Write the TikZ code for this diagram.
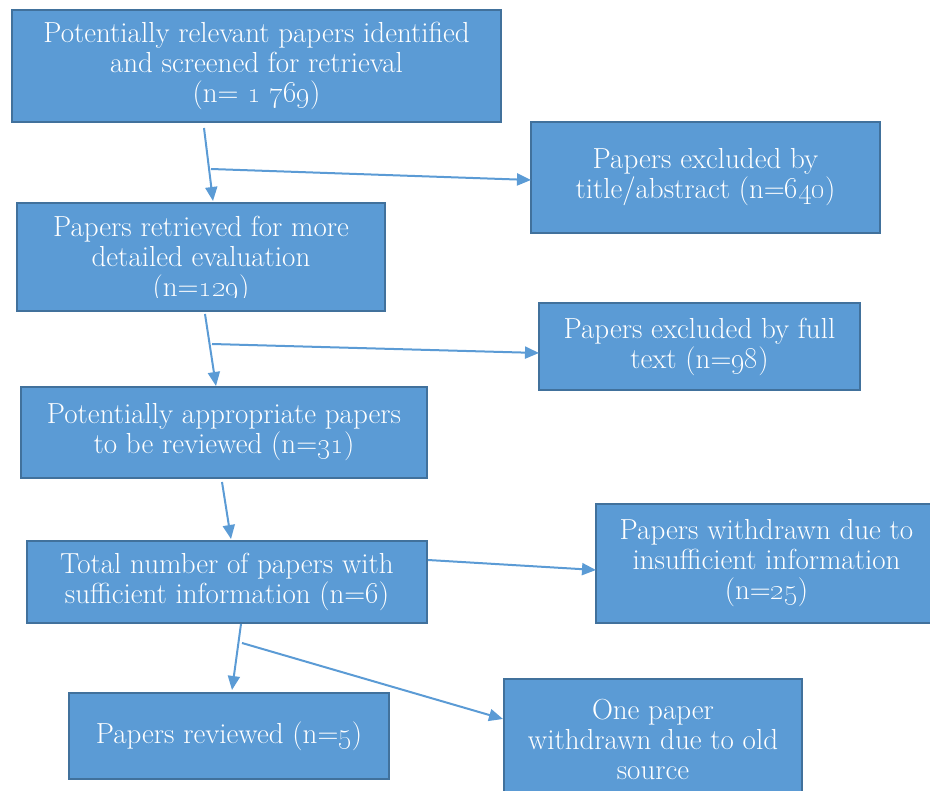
\documentclass[tikz,border=0pt]{standalone}
\usetikzlibrary{arrows.meta}
\definecolor{boxfill}{HTML}{5B9BD5}
\definecolor{boxedge}{HTML}{41719C}
\definecolor{arrowc}{HTML}{5B9BD5}
\newcommand\boxfont{\fontsize{29}{30}\selectfont}
\begin{document}
\begin{tikzpicture}[x=1pt,y=-1pt,
  box/.style={draw=boxedge, fill=boxfill, line width=2.2pt, inner sep=0pt,
    text=white, align=center, font=\boxfont},
  boxtext/.style={text=white, align=center, font=\boxfont, inner sep=0pt},
  arr/.style={draw=arrowc, line width=2pt, -{Triangle[length=14pt,width=12pt]}}]
\path[use as bounding box] (0,0) rectangle (930,791);
\clip (0,0) rectangle (930,791);

\node[box, minimum width=489pt, minimum height=112pt] (b1) at (256.5,66)
  {Potentially relevant papers identified\\and screened for retrieval\\(n= \oldstylenums{1}~\oldstylenums{769})};
\node[box, minimum width=349pt, minimum height=111pt] (b2) at (705.5,177.5)
  {Papers excluded by\\title/abstract (n=\oldstylenums{640})};
\node[box, minimum width=368pt, minimum height=108pt] (b3) at (201,257) {};
\begin{scope}
  \clip (19,205) rectangle (383,298);
  \node[boxtext] (t3) at (201,260) {Papers retrieved for more\\detailed evaluation\\(n=\oldstylenums{129})};
\end{scope}
\node[box, minimum width=321pt, minimum height=87pt] (b4) at (699.5,346.5)
  {Papers excluded by full\\text (n=\oldstylenums{98})};
\node[box, minimum width=406pt, minimum height=91pt] (b5) at (224,432.5)
  {Potentially appropriate papers\\to be reviewed (n=\oldstylenums{31})};
\node[box, minimum width=400pt, minimum height=82pt] (b6) at (227,582)
  {Total number of papers with\\sufficient information (n=\oldstylenums{6})};
\node[box, minimum width=341pt, minimum height=119pt] (b7) at (766.5,563.5)
  {Papers withdrawn due to\\insufficient information\\(n=\oldstylenums{25})};
\node[box, minimum width=320pt, minimum height=86pt] (b8) at (229,736)
  {Papers reviewed (n=\oldstylenums{5})};
\node[box, minimum width=298pt, minimum height=121pt] (b9) at (653,739.5)
  {One paper\\withdrawn due to old\\source};

\coordinate (s1) at (204,128); \coordinate (e1) at (213,201);
\coordinate (j1) at (211,169); \coordinate (e2) at (531,180);
\coordinate (s3) at (205,314); \coordinate (e3) at (216,386);
\coordinate (j2) at (212,344); \coordinate (e4) at (539,353);
\coordinate (s5) at (222,482); \coordinate (e5) at (231,539);
\coordinate (s6) at (428,560); \coordinate (e6) at (596,570);
\coordinate (s7) at (241,624); \coordinate (e7) at (232,690);
\coordinate (j4) at (242,643); \coordinate (e8) at (503,719);

\draw[arr] (s1) -- (e1);
\draw[arr] (j1) -- (e2);
\draw[arr] (s3) -- (e3);
\draw[arr] (j2) -- (e4);
\draw[arr] (s5) -- (e5);
\draw[arr] (s6) -- (e6);
\draw[arr] (s7) -- (e7);
\draw[arr] (j4) -- (e8);
\end{tikzpicture}
\end{document}
